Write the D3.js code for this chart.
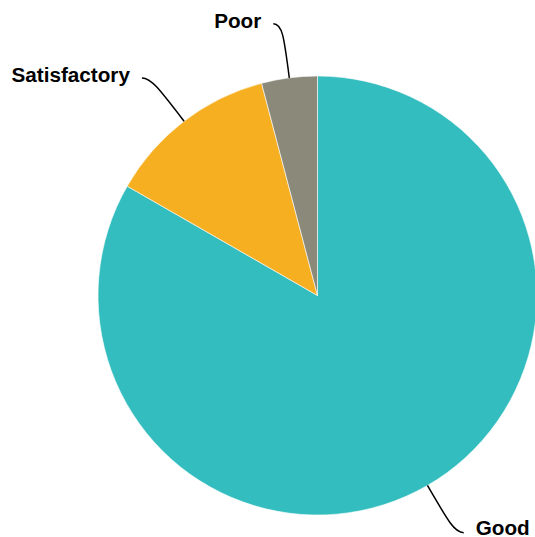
<!DOCTYPE html>
<html>
<head>
<meta charset="utf-8">
<script src="https://cdn.jsdelivr.net/npm/d3@7"></script>
<style>
  html, body { margin: 0; padding: 0; background: #fff; }
  svg { display: block; }
</style>
</head>
<body>
<svg id="chart" width="535" height="537"></svg>
<script>
const categories = ["Good", "Satisfactory", "Poor"];
const values = [83.3, 12.6, 4.1];
const colors = ["#34bdbf", "#f6af21", "#8a897a"];

const width = 535, height = 537;
const cx = 317.5, cy = 295.5, radius = 219.5;
const labelRadius = 274, hook = 9, textGap = 12;

const data = categories.map((c, i) => ({ name: c, value: values[i], color: colors[i] }));

const svg = d3.select("#chart");
const g = svg.append("g").attr("transform", `translate(${cx},${cy})`);

const pie = d3.pie().sort(null).value(d => d.value);
const arc = d3.arc().innerRadius(0).outerRadius(radius);
const arcs = pie(data);

g.selectAll("path.slice")
  .data(arcs)
  .enter().append("path")
  .attr("class", "slice")
  .attr("d", arc)
  .attr("fill", d => d.data.color)
  .attr("stroke", "#ffffff")
  .attr("stroke-width", 0.6);

function polar(r, a) { return [r * Math.sin(a), -r * Math.cos(a)]; }

arcs.forEach(d => {
  const mid = (d.startAngle + d.endAngle) / 2;
  const p0 = polar(radius, mid);
  const p1 = polar(radius + 42, mid);
  const p2 = polar(labelRadius, mid);
  const right = Math.sin(mid) > 0;
  const p3 = [p2[0] + (right ? hook : -hook), p2[1]];
  const path = d3.path();
  path.moveTo(p0[0], p0[1]);
  path.bezierCurveTo(p1[0], p1[1], p2[0], p2[1], p3[0], p3[1]);
  g.append("path")
    .attr("d", path.toString())
    .attr("fill", "none")
    .attr("stroke", "#000")
    .attr("stroke-width", 1.5);
  const baseline = Math.min(p3[1] + 4.5, height - cy - 2.5);
  g.append("text")
    .attr("x", p3[0] + (right ? textGap : -textGap))
    .attr("y", baseline)
    .attr("text-anchor", right ? "start" : "end")
    .attr("font-family", "'Liberation Sans', Arial, Helvetica, sans-serif")
    .attr("font-weight", "bold")
    .attr("font-size", "20.7px")
    .attr("fill", "#000")
    .text(d.data.name);
});
</script>
</body>
</html>
